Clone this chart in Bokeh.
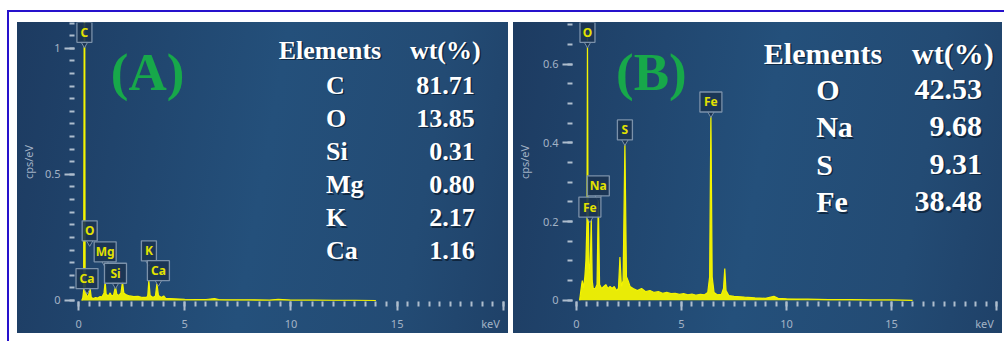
from bokeh.plotting import figure
from bokeh.models import FixedTicker, Spacer, NumeralTickFormatter
from bokeh.layouts import row, column
from bokeh.embed import file_html
from bokeh.resources import INLINE
from bokeh.core.properties import value

# ---------------- data: spectrum (A) ----------------
energy_a = [0.15, 0.20, 0.24, 0.27, 0.29, 0.31, 0.34, 0.38, 0.45, 0.50, 0.525, 0.55, 0.60,
            0.70, 0.80, 0.90, 1.00, 1.10, 1.20, 1.254, 1.30, 1.40, 1.49, 1.56, 1.65, 1.74,
            1.80, 1.90, 2.00, 2.07, 2.13, 2.25, 2.40, 2.60, 2.80, 3.00, 3.20, 3.26, 3.31,
            3.37, 3.50, 3.62, 3.69, 3.76, 3.90, 4.01, 4.10, 4.50, 5.00, 5.50, 6.00, 6.40,
            6.60, 7.00, 8.00, 9.00, 9.40, 10.0, 11.0, 12.0, 13.0, 14.0]
counts_a = [0.0, 0.010, 0.040, 1.25, 1.25, 0.060, 0.035, 0.020, 0.015, 0.030, 0.050, 0.045, 0.012,
            0.008, 0.012, 0.010, 0.015, 0.014, 0.030, 0.075, 0.025, 0.018, 0.030, 0.018, 0.022, 0.055,
            0.025, 0.020, 0.030, 0.075, 0.030, 0.022, 0.018, 0.015, 0.016, 0.012, 0.012, 0.020, 0.080,
            0.020, 0.012, 0.018, 0.067, 0.020, 0.012, 0.018, 0.008, 0.007, 0.005, 0.004, 0.004, 0.008,
            0.004, 0.003, 0.003, 0.002, 0.005, 0.002, 0.002, 0.001, 0.001, 0.0]

# ---------------- data: spectrum (B) ----------------
energy_b = [0.15, 0.20, 0.25, 0.28, 0.33, 0.40, 0.45, 0.50, 0.525, 0.55, 0.60, 0.65, 0.705, 0.75,
            0.80, 0.90, 0.98, 1.041, 1.10, 1.20, 1.30, 1.40, 1.50, 1.60, 1.70, 1.80, 1.90, 2.00,
            2.07, 2.14, 2.22, 2.307, 2.38, 2.46, 2.55, 2.70, 2.90, 3.10, 3.30, 3.50, 3.70, 3.90,
            4.10, 4.30, 4.50, 4.70, 4.90, 5.10, 5.30, 5.50, 5.70, 5.90, 6.10, 6.25, 6.34, 6.40,
            6.46, 6.55, 6.70, 6.90, 7.00, 7.06, 7.12, 7.25, 7.50, 7.80, 8.00, 8.50, 9.00, 9.40,
            9.60, 10.0, 11.0, 12.0, 13.0, 14.0, 15.0, 16.0]
counts_b = [0.0, 0.020, 0.040, 0.050, 0.030, 0.060, 0.100, 0.200, 0.680, 0.250, 0.090, 0.070, 0.210, 0.050,
            0.030, 0.030, 0.040, 0.260, 0.040, 0.030, 0.035, 0.040, 0.030, 0.035, 0.030, 0.035, 0.025, 0.030,
            0.110, 0.035, 0.050, 0.400, 0.060, 0.050, 0.035, 0.030, 0.025, 0.030, 0.022, 0.025, 0.020, 0.022,
            0.018, 0.020, 0.017, 0.018, 0.015, 0.017, 0.014, 0.016, 0.013, 0.015, 0.014, 0.020, 0.060, 0.476,
            0.060, 0.020, 0.014, 0.015, 0.030, 0.081, 0.025, 0.012, 0.010, 0.009, 0.008, 0.006, 0.005, 0.010,
            0.005, 0.004, 0.003, 0.002, 0.002, 0.001, 0.001, 0.0]

# ---------------- peak tags ----------------
tags_a = ["C", "O", "Mg", "Si", "K", "Ca", "Ca"]
tag_energy_a = [0.277, 0.525, 1.254, 1.740, 3.313, 3.760, 0.400]
tags_b = ["O", "S", "Fe", "Na", "Fe"]
tag_energy_b = [0.525, 2.307, 6.400, 1.041, 0.640]

# ---------------- composition tables ----------------
elements_a = ["C", "O", "Si", "Mg", "K", "Ca"]
wt_a = ["81.71", "13.85", "0.31", "0.80", "2.17", "1.16"]
elements_b = ["O", "Na", "S", "Fe"]
wt_b = ["42.53", "9.68", "9.31", "38.48"]

x_ticks = [0, 5, 10, 15, 20]
unit_label = "keV"

# ---------------- styling ----------------
BG = "#22466e"
GRAD = "linear-gradient(100deg, #1d3b61 0%, #24507b 50%, #234b74 80%, #1f4168 100%)"
TICK = "#aebdcd"
LAB = "#a3b3c6"
YEL = "#f4f400"
TAGFILL = "#1b3452"
TAGLINE = "#7b91aa"
TAGTXT = "#e2e200"
GREEN = "#17a84a"
BLUE = "#2611cc"
SANS = "Noto Sans"
SERIF = "Liberation Serif"
NB = "\u00a0"


def make_panel(width, min_left, min_right, min_bottom, x_range, y_range,
               y_major, y_minor, axis_standoff):
    p = figure(width=width, height=311, x_range=x_range, y_range=y_range,
               output_backend="svg", toolbar_location=None, title=None,
               min_border_left=min_left, min_border_right=min_right,
               min_border_top=0, min_border_bottom=min_bottom,
               background_fill_color=BG, border_fill_color=BG,
               background_fill_alpha=0, border_fill_alpha=0,
               outline_line_color=None,
               styles={"background-color": BG, "background-image": GRAD})
    p.grid.visible = False
    xa = p.xaxis[0]
    xa.ticker = FixedTicker(ticks=x_ticks, minor_ticks=[k * 0.5 for k in range(41)])
    xa.formatter = NumeralTickFormatter(format="0")
    # unit label sits right-aligned at the last tick (padding shifts centred text left)
    xa.major_label_overrides = {x_ticks[-1]: unit_label + NB * 3}
    ya = p.yaxis[0]
    ya.ticker = FixedTicker(ticks=y_major, minor_ticks=y_minor)
    ya.formatter = NumeralTickFormatter(format="0.[0]")
    ya.axis_label = "cps/eV"
    ya.axis_label_standoff = axis_standoff
    ya.axis_label_text_font = SANS
    ya.axis_label_text_font_size = "11px"
    ya.axis_label_text_font_style = "normal"
    ya.axis_label_text_color = LAB
    for ax in (xa, ya):
        ax.axis_line_color = None
        ax.major_tick_line_color = TICK
        ax.minor_tick_line_color = TICK
        ax.major_tick_line_width = 2
        ax.minor_tick_line_width = 2
        ax.major_tick_in = 0
        ax.minor_tick_in = 0
        ax.major_label_text_font = SANS
        ax.major_label_text_font_size = "11px"
        ax.major_label_text_color = LAB
    xa.major_tick_out = 9
    xa.minor_tick_out = 5
    xa.major_label_standoff = 5
    ya.major_tick_out = 10
    ya.minor_tick_out = 5
    ya.major_label_standoff = 4
    return p


def draw_spectrum(p, e, c):
    p.varea(x=e, y1=[0] * len(e), y2=c, fill_color=YEL, fill_alpha=0.95)
    p.line(x=e, y=c, line_color=YEL, line_width=1.2)


def draw_tags(p, names, xs, ys, px_unit):
    widths = [15 if len(n) == 1 else 22 for n in names]
    tip = [y - 11.5 / px_unit for y in ys]
    p.scatter(x=xs, y=tip, marker="inverted_triangle", size=7,
              fill_color=TAGFILL, line_color=TAGLINE, line_width=1)
    p.rect(x=xs, y=ys, width=widths, height=20, width_units="screen", height_units="screen",
           fill_color=TAGFILL, fill_alpha=0.9, line_color=TAGLINE, line_width=1.3)
    p.text(x=xs, y=ys, text=names, text_align="center", text_baseline="middle",
           text_color=TAGTXT, text_font=value(SANS), text_font_size="12px",
           text_font_style="bold")


def draw_table(p, els, wts, size, x_head_l, x_head_r, x_name, x_val, y_head, ys):
    xs_l = [x_head_l] + [x_name] * len(els)
    xs_r = [x_head_r] + [x_val] * len(wts)
    yy = [y_head] + ys
    left_txt = ["Elements"] + els
    right_txt = ["wt(%)"] + wts
    for dx, col, alpha in ((1.5, "#08182a", 0.7), (0, "#ffffff", 1.0)):
        p.text(x=xs_l, y=yy, text=left_txt, x_offset=dx, y_offset=dx, text_align="left",
               text_baseline="middle", text_color=col, text_alpha=alpha,
               text_font=value(SERIF), text_font_size=size, text_font_style="bold")
        p.text(x=xs_r, y=yy, text=right_txt, x_offset=dx, y_offset=dx, text_align="right",
               text_baseline="middle", text_color=col, text_alpha=alpha,
               text_font=value(SERIF), text_font_size=size, text_font_style="bold")


# ---------------- panel A ----------------
pa = make_panel(491, 51, 3, 31, (-0.19, 20.1), (-0.004, 1.102),
                [0, 0.5, 1], [k * 0.05 for k in range(23)], 6)
draw_spectrum(pa, energy_a, counts_a)
draw_tags(pa, tags_a, tag_energy_a, [1.063, 0.276, 0.193, 0.108, 0.197, 0.118, 0.087], 254)
draw_table(pa, elements_a, wt_a, "26px", 9.42, 18.93, 11.65, 18.65, 0.992,
           [0.854 - k * 0.1315 for k in range(len(elements_a))])
pa.text(x=[3.25], y=[0.906], text=["(A)"], text_align="center", text_baseline="middle",
        text_color=GREEN, text_font=value(SERIF), text_font_size="53px", text_font_style="bold")

# ---------------- panel B ----------------
pb = make_panel(489, 53, 4, 32, (-0.188, 20.09), (-0.003, 0.706),
                [0, 0.2, 0.4, 0.6], [k * 0.05 for k in range(15)], 8)
draw_spectrum(pb, energy_b, counts_b)
draw_tags(pb, tags_b, tag_energy_b, [0.681, 0.433, 0.504, 0.291, 0.237], 395)
draw_table(pb, elements_b, wt_b, "30px", 8.92, 19.86, 11.41, 19.30, 0.628,
           [0.537 - k * 0.0953 for k in range(len(elements_b))])
pb.text(x=[3.57], y=[0.58], text=["(B)"], text_align="center", text_baseline="middle",
        text_color=GREEN, text_font=value(SERIF), text_font_size="53px", text_font_style="bold")

# ---------------- frame / layout ----------------
panels = row(Spacer(width=8, height=311), pa, Spacer(width=5, height=311), pb,
             Spacer(width=2, height=311))
framed = column(
    Spacer(width=997, height=2, styles={"background-color": BLUE}),
    row(Spacer(width=2, height=329, styles={"background-color": BLUE}),
        column(Spacer(width=995, height=10), panels)))
layout = column(Spacer(width=1004, height=10),
                row(Spacer(width=7, height=331), framed))

open("out.html", "w").write(file_html(layout, INLINE))
